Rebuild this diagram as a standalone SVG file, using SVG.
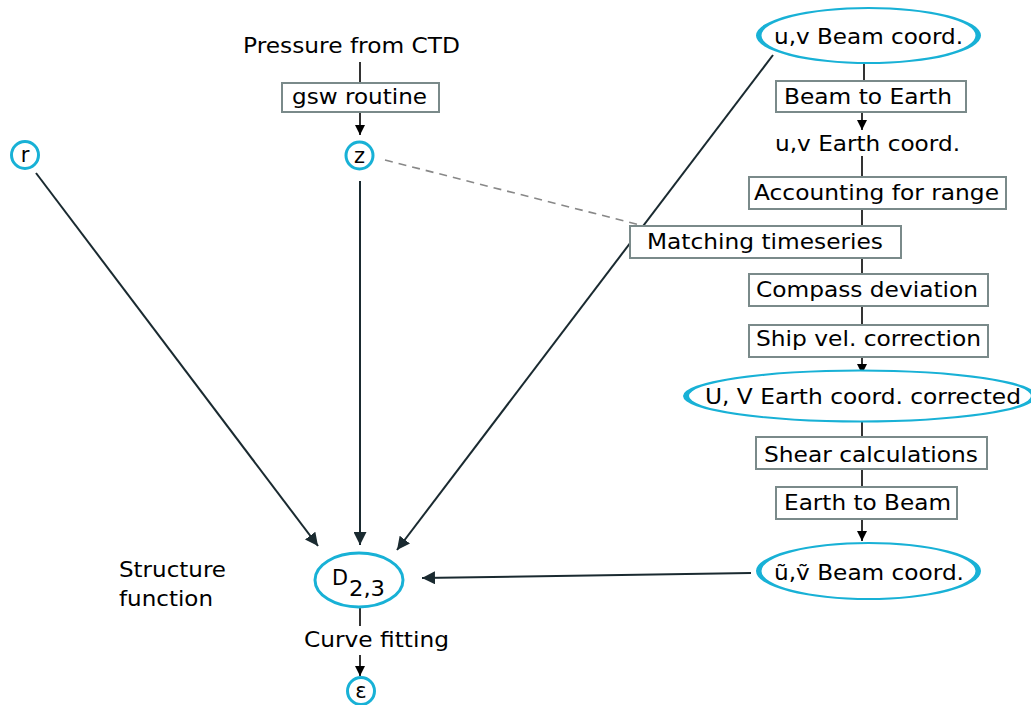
<svg xmlns="http://www.w3.org/2000/svg" width="1031" height="705" viewBox="0 0 1031 705">
<style>
text{font-family:"DejaVu Sans",sans-serif;font-size:21px;fill:#000}
.box{fill:#fff;stroke:#7a8a8a;stroke-width:2}
.ell{fill:#fff;stroke:#18b1d6;stroke-width:3}
.ring{fill:#18b1d6;fill-rule:evenodd;stroke:none}
.bg{fill:#fff;stroke:none}
.c{text-anchor:middle}
.ln{stroke:#000;stroke-width:1.6;fill:none}
.dk{stroke:#1a2a30;stroke-width:2;fill:none}
</style>
<defs>
<marker id="ah" viewBox="0 0 10 10" refX="10" refY="5" markerWidth="10" markerHeight="10" markerUnits="userSpaceOnUse" orient="auto"><path d="M0,0 L10,5 L0,10 Z" fill="#000"/></marker>
<marker id="ahd" viewBox="0 0 10 10" refX="10" refY="5" markerWidth="13" markerHeight="13" markerUnits="userSpaceOnUse" orient="auto"><path d="M0,0 L10,5 L0,10 Z" fill="#1a2a30"/></marker>
</defs>
<g id="connectors">
<line class="ln" x1="360" y1="62" x2="360" y2="83"/>
<line class="ln" x1="360" y1="112" x2="360" y2="135" marker-end="url(#ah)"/>
<line class="ln" x1="864" y1="64" x2="864" y2="81"/>
<line class="ln" x1="862" y1="112" x2="862" y2="130" marker-end="url(#ah)"/>
<line class="ln" x1="862" y1="156" x2="862" y2="177"/>
<line class="ln" x1="862" y1="209" x2="862" y2="226"/>
<line class="ln" x1="862" y1="258" x2="862" y2="274"/>
<line class="ln" x1="862" y1="306" x2="862" y2="325"/>
<line class="ln" x1="862" y1="357" x2="862" y2="374" marker-end="url(#ah)"/>
<line class="ln" x1="862" y1="422" x2="862" y2="437"/>
<line class="ln" x1="862" y1="469" x2="862" y2="487"/>
<line class="ln" x1="862" y1="519" x2="862" y2="541" marker-end="url(#ah)"/>
<line x1="385" y1="160" x2="640" y2="225" stroke="#888" stroke-width="1.6" stroke-dasharray="8,6"/>
<line class="dk" x1="773" y1="55" x2="397" y2="550" marker-end="url(#ahd)"/>
<line class="dk" x1="36" y1="173" x2="318" y2="546" marker-end="url(#ahd)"/>
<line class="dk" x1="360" y1="181" x2="360" y2="545" marker-end="url(#ahd)"/>
<line class="dk" x1="751" y1="573" x2="422" y2="578" marker-end="url(#ahd)"/>
<line class="ln" x1="360" y1="608" x2="360" y2="626"/>
<line class="ln" x1="360" y1="655" x2="360" y2="676" marker-end="url(#ah)"/>
</g>
<g id="pressure"><text x="243" y="53" textLength="217" lengthAdjust="spacingAndGlyphs">Pressure from CTD</text></g>
<g id="gsw"><rect class="box" x="282" y="83" width="157" height="29"/><text x="292" y="104" textLength="135" lengthAdjust="spacingAndGlyphs">gsw routine</text></g>
<g id="z"><circle class="ell" cx="359.5" cy="155.5" r="13.5"/><text class="c" x="359.5" y="163">z</text></g>
<g id="r"><circle class="ell" cx="25" cy="155" r="13.5"/><text class="c" x="25" y="162">r</text></g>
<g id="uvbeam"><ellipse class="bg" cx="868.5" cy="35.5" rx="112" ry="28"/><path class="ring" d="M756,35.5 A112.5,28.5 0 1 0 981,35.5 A112.5,28.5 0 1 0 756,35.5 Z M761.5,35.5 A107,26.5 0 1 0 975.5,35.5 A107,26.5 0 1 0 761.5,35.5 Z"/><text x="774" y="44" textLength="189" lengthAdjust="spacingAndGlyphs">u,v Beam coord.</text></g>
<g id="b2e"><rect class="box" x="776" y="81" width="190" height="31"/><text x="784" y="104" textLength="168" lengthAdjust="spacingAndGlyphs">Beam to Earth</text></g>
<g id="uvearth"><text x="775" y="151" textLength="185" lengthAdjust="spacingAndGlyphs">u,v Earth coord.</text></g>
<g id="range"><rect class="box" x="749" y="177" width="257" height="32"/><text x="754" y="200" textLength="245" lengthAdjust="spacingAndGlyphs">Accounting for range</text></g>
<g id="match"><rect class="box" x="630" y="226" width="271" height="32"/><text x="647" y="249" textLength="236" lengthAdjust="spacingAndGlyphs">Matching timeseries</text></g>
<g id="compass"><rect class="box" x="749" y="274" width="239" height="32"/><text x="756" y="297" textLength="222" lengthAdjust="spacingAndGlyphs">Compass deviation</text></g>
<g id="ship"><rect class="box" x="749" y="325" width="239" height="32"/><text x="756" y="346" textLength="225" lengthAdjust="spacingAndGlyphs">Ship vel. correction</text></g>
<g id="UVcorr"><ellipse class="bg" cx="860" cy="396" rx="176" ry="26"/><path class="ring" d="M683,396 A177,26.5 0 1 0 1037,396 A177,26.5 0 1 0 683,396 Z M689,396 A171,24.5 0 1 0 1031,396 A171,24.5 0 1 0 689,396 Z"/><text x="705" y="404" textLength="316" lengthAdjust="spacingAndGlyphs">U, V Earth coord. corrected</text></g>
<g id="shear"><rect class="box" x="756" y="437" width="231" height="32"/><text x="764" y="462" textLength="214" lengthAdjust="spacingAndGlyphs">Shear calculations</text></g>
<g id="e2b"><rect class="box" x="776" y="487" width="181" height="32"/><text x="784" y="510" textLength="167" lengthAdjust="spacingAndGlyphs">Earth to Beam</text></g>
<g id="tildebeam"><ellipse class="bg" cx="868.5" cy="571" rx="112" ry="28.5"/><path class="ring" d="M756,571 A112.5,29 0 1 0 981,571 A112.5,29 0 1 0 756,571 Z M761.5,571 A107,27 0 1 0 975.5,571 A107,27 0 1 0 761.5,571 Z"/><text x="774" y="580" textLength="190" lengthAdjust="spacingAndGlyphs">ũ,ṽ Beam coord.</text></g>
<g id="D"><ellipse class="ell" cx="359" cy="580" rx="44" ry="27"/><text x="332" y="585" textLength="16" lengthAdjust="spacingAndGlyphs">D</text><text x="349" y="596" font-size="23" textLength="36" lengthAdjust="spacingAndGlyphs">2,3</text></g>
<g id="structure"><text x="119" y="577" textLength="107" lengthAdjust="spacingAndGlyphs">Structure</text><text x="119" y="606" textLength="94" lengthAdjust="spacingAndGlyphs">function</text></g>
<g id="curve"><text x="304" y="647" textLength="145" lengthAdjust="spacingAndGlyphs">Curve fitting</text></g>
<g id="eps"><circle class="ell" cx="361" cy="691" r="13.5"/><text class="c" x="361" y="698">ε</text></g>
</svg>
